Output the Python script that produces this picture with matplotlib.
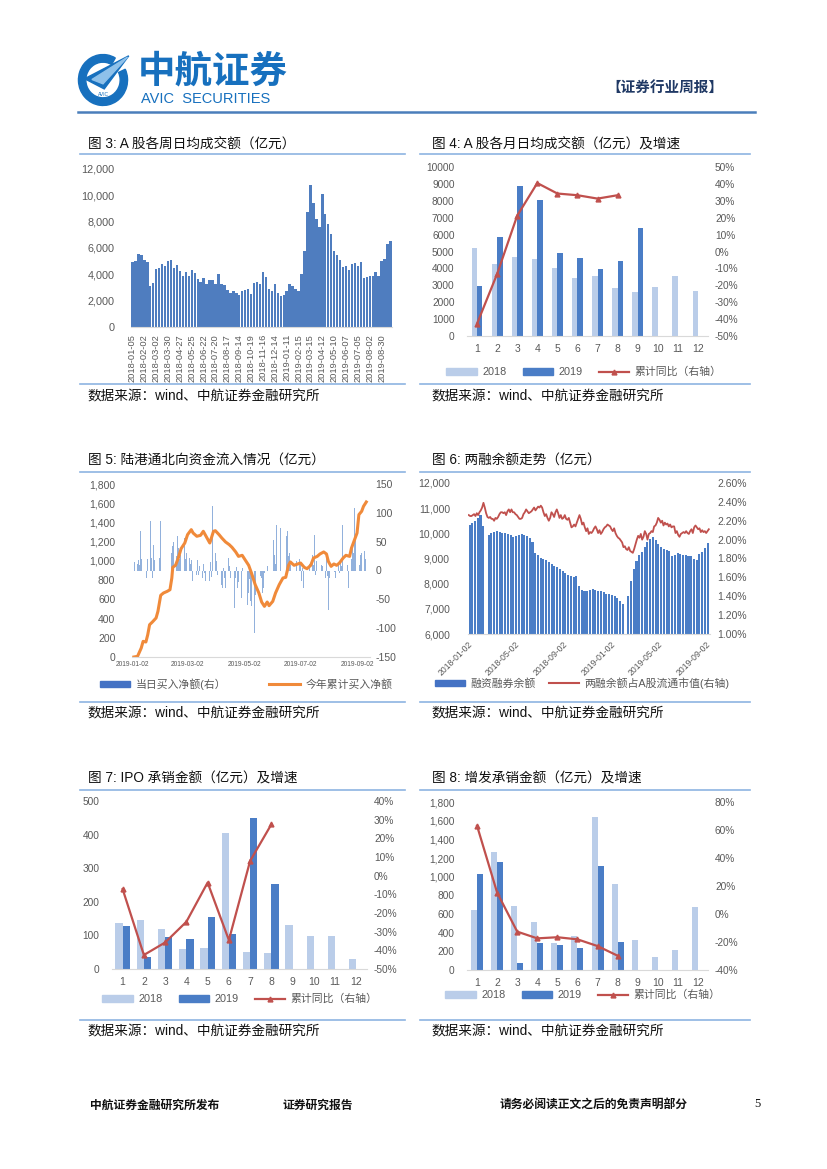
import numpy as np
import pandas as pd
import matplotlib
matplotlib.use("Agg")
import matplotlib.pyplot as plt
from matplotlib.patches import Wedge, Polygon, Rectangle
from matplotlib.lines import Line2D
from matplotlib.ticker import FuncFormatter
import matplotlib.dates as mdates

plt.rcParams['font.family'] = ['Liberation Sans', 'Noto Sans CJK SC']
plt.rcParams['axes.unicode_minus'] = False

W, H = 827, 1169

# ---- fig 3: weekly average daily turnover (100m CNY)
week_amt = [4950, 5000, 5550, 5500, 5100, 4950, 3150, 3350, 4400, 4500, 4800, 4650,
            5000, 5100, 4500, 4700, 4250, 3900, 4150, 3850, 4300, 4100, 3650, 3450,
            3700, 3250, 3550, 3600, 3250, 4000, 3300, 3200, 2800, 2550, 2750, 2600,
            2400, 2700, 2800, 2900, 2500, 3350, 3450, 3250, 4200, 3800, 2850, 2700,
            3300, 2600, 2350, 2400, 2700, 3300, 3100, 2900, 2750, 4000, 5800, 8700,
            10800, 9400, 8200, 7600, 10100, 8600, 7800, 7100, 5800, 5500, 5100, 4550,
            4600, 4300, 4800, 4850, 4650, 4950, 3700, 3800, 3850, 3900, 4150, 3850,
            5000, 5150, 6300, 6500]
week_ticks = ['2018-01-05', '2018-02-02', '2018-03-02', '2018-03-30', '2018-04-27',
              '2018-05-25', '2018-06-22', '2018-07-20', '2018-08-17', '2018-09-14',
              '2018-10-19', '2018-11-16', '2018-12-14', '2019-01-11', '2019-02-15',
              '2019-03-15', '2019-04-12', '2019-05-10', '2019-06-07', '2019-07-05',
              '2019-08-02', '2019-08-30']

# ---- fig 4: monthly average daily turnover + cumulative yoy
months = [str(i) for i in range(1, 13)]
turn_2018 = [5200, 4250, 4700, 4550, 4050, 3450, 3550, 2850, 2600, 2900, 3550, 2650]
turn_2019 = [2950, 5850, 8850, 8050, 4900, 4600, 3950, 4450, 6400]
turn_yoy = [-42.7, -13.3, 21.2, 40.5, 34.3, 33.3, 31.3, 33.3]

# ---- fig 5: northbound flow 2019
north_holidays = ['2019-02-04', '2019-02-05', '2019-02-06', '2019-02-07', '2019-02-08',
                  '2019-04-05', '2019-05-01', '2019-05-02', '2019-05-03', '2019-06-07']
north_daily = [
    # Jan
    3, 8, 15, 12, 18, 10, 68, 20, 42, 25, 15, -13, 20, 85, 22, -13, 45, 18, 36, 12, 50, 22,
    # Feb
    86, 56, 48, 30, 42, 50, 25, 59, 39, 20, 27, 32, 15, 56, 20,
    # Mar
    30, 22, 12, 18, -19, -25, 10, -8, 19, -7, 8, -13, 12, -5, -18, -10, -108, -19, 15, -12, 111,
    # Apr
    30, 16, -8, 10, -25, -30, 5, -13, -30, 22, 8, -13, -5, 12, -65, -13, 6, -30, -20, -48, 5,
    # May
    -60, -39, -15, -53, -62, -108, -42, -15, -25, -19, -10, -13, -39, -30, -5, 8, -10, -5, 25, -8,
    # Jun
    53, 27, 12, 79, 74, 56, 42, 20, 7, 59, 68, 25, 30, 10, 15, -19, 8, 12, 16,
    # Jul
    20, 10, -19, 5, -30, -13, 8, 5, 7, 12, 27, 10, 62, -8, 16, 16, -5, -2, 10, 8, -13, 22, -10,
    # Aug
    -68, -13, -30, -25, 5, -2, -13, 13, -5, 13, 8, 79, 10, 19, 5, 10, -30, 20, 45, 30, 108, 53,
    # Sep
    15, 97, 10, 27, 30, 33, 20]
north_cum_day = [1, 5, 9, 11, 14, 16, 18, 21, 25, 27, 30, 33, 37, 40, 42, 43, 46, 49, 52, 56,
                 59, 63, 65, 69, 73, 76, 80, 83, 87, 89, 93, 96, 100, 104, 107, 111, 114, 118,
                 121, 125, 128, 132, 136, 139, 142, 145, 147, 151, 154, 158, 162, 165, 168, 170,
                 174, 178, 181, 185, 188, 192, 195, 199, 202, 206, 209, 211, 214, 217, 220, 223,
                 227, 230, 234, 236, 240, 242, 244, 247, 249, 252]
north_cum = [0, 7, 94, 163, 156, 232, 336, 364, 406, 475, 642, 666, 683, 700, 822, 933, 954,
             1030, 1127, 1186, 1273, 1325, 1290, 1256, 1266, 1308, 1238, 1186, 1308, 1314, 1273,
             1238, 1197, 1169, 1141, 1093, 1047, 1058, 1013, 954, 874, 753, 666, 572, 527, 572,
             534, 579, 666, 753, 822, 829, 954, 989, 954, 968, 978, 933, 919, 954, 1030, 1047,
             1072, 1093, 1072, 995, 943, 968, 954, 978, 1030, 1058, 1047, 1134, 1238, 1290,
             1481, 1516, 1568, 1613]
north_ticks = ['2019-01-02', '2019-03-02', '2019-05-02', '2019-07-02', '2019-09-02']

# ---- fig 6: margin balance (weekly) and share of float cap
margin_bal = [10330, 10400, 10500, 10620, 10730, 10300, np.nan, 9920, 10000, 10060, 10090,
              10060, 10030, 10000, 9970, 9920, 9860, 9890, 9930, 9960, 9930, 9880, 9830, 9650,
              9220, 9120, 9030, 8970, 8940, 8880, 8780, 8700, 8660, 8570, 8510, 8430, 8360,
              8310, 8250, 8290, 7900, 7740, 7710, 7710, 7760, 7780, 7760, 7720, 7710, 7670,
              7600, 7570, 7550, 7510, 7450, 7300, 7190, np.nan, 7500, 8100, 8600, 8900, 9120,
              9240, 9470, 9640, 9760, 9860, 9750, 9560, 9450, 9380, 9330, 9280, 9100, 9140,
              9200, 9180, 9150, 9130, 9110, 9080, 8990, 8960, 9170, 9260, 9420, 9620]
margin_ratio = [2.26, 2.25, 2.25, 2.26, 2.27, 2.25, 2.28, 2.26, 2.29, 2.31, 2.34, 2.39, 2.34,
                2.28, 2.24, 2.23, 2.24, 2.22, 2.22, 2.20, 2.23, 2.22, 2.24, 2.27, 2.29, 2.29,
                2.28, 2.29, 2.26, 2.30, 2.32, 2.29, 2.32, 2.29, 2.29, 2.27, 2.26, 2.24, 2.22,
                2.22, 2.23, 2.27, 2.29, 2.32, 2.30, 2.28, 2.29, 2.30, 2.32, 2.34, 2.31, 2.33,
                2.35, 2.34, 2.36, 2.34, 2.29, 2.25, 2.27, 2.23, 2.20, 2.23, 2.29, 2.27, 2.24,
                2.29, 2.32, 2.28, 2.23, 2.26, 2.22, 2.23, 2.26, 2.22, 2.21, 2.23, 2.18, 2.13,
                2.14, 2.16, 2.14, 2.18, 2.22, 2.26, 2.22, 2.16, 2.18, 2.13, 2.09, 2.12, 2.06,
                2.08, 2.07, 2.09, 2.12, 2.14, 2.11, 2.07, 2.10, 2.06, 2.08, 2.11, 2.13, 2.14,
                2.16, 2.15, 2.14, 2.11, 2.09, 2.12, 2.07, 2.04, 2.02, 2.01, 1.99, 1.97, 1.92,
                1.93, 1.90, 1.89, 1.92, 1.88, 1.87, 1.86, 1.90, 1.95, 2.00, 2.04, 2.02, 2.06,
                2.00, 2.03, 2.09, 2.06, 2.00, 2.06, 2.07, 2.09, 2.08, 2.14, 2.15, 2.18, 2.23,
                2.21, 2.18, 2.20, 2.15, 2.18, 2.16, 2.17, 2.14, 2.16, 2.13, 2.14, 2.14, 2.07,
                2.09, 2.05, 2.03, 2.06, 2.07, 2.08, 2.07, 2.09, 2.07, 2.06, 2.09, 2.11, 2.07,
                2.13, 2.15, 2.13, 2.11, 2.12, 2.08, 2.10, 2.08, 2.09, 2.07, 2.09, 2.11]
margin_ticks = ['2018-01-02', '2018-05-02', '2018-09-02', '2019-01-02', '2019-05-02', '2019-09-02']

# ---- fig 7: IPO underwriting
ipo_2018 = [137, 146, 119, 59, 63, 404, 52, 48, 131, 99, 98, 30]
ipo_2019 = [128, 35, 94, 89, 156, 105, 448, 253]
ipo_yoy = [-7.2, -42.5, -35.8, -24.7, -3.7, -34.5, 7.9, 27.5]

# ---- fig 8: follow-on underwriting
seo_2018 = [638, 1265, 685, 509, 287, 362, 1641, 925, 323, 143, 215, 670]
seo_2019 = [1029, 1154, 75, 290, 269, 237, 1115, 301]
seo_yoy = [63.0, 15.3, -12.6, -17.4, -16.6, -18.1, -22.9, -29.8]

TICK = '#595959'
LIGHT = '#BACDE9'
DARK = '#4A7DC6'
BAR3 = '#4F7DBF'
RED = '#C0504D'
ORANGE = '#F08A3A'
RULE = '#8DB4E2'
BLUE = '#1770BE'

fig = plt.figure(figsize=(W / 100, H / 100), dpi=100)


def box(x0, y0, x1, y1):
    return [x0 / W, 1 - y1 / H, (x1 - x0) / W, (y1 - y0) / H]


def fx(x):
    return x / W


def fy(y):
    return 1 - y / H


def hline(y, x0, x1, color=RULE, lw=1.2):
    fig.add_artist(Line2D([fx(x0), fx(x1)], [fy(y), fy(y)], color=color, lw=lw,
                          transform=fig.transFigure))


def ftext(x, y, s, **kw):
    kw.setdefault('va', 'center')
    fig.text(fx(x), fy(y), s, **kw)


def clean(ax, base=True):
    for s in ax.spines.values():
        s.set_visible(False)
    if base:
        ax.spines['bottom'].set_visible(True)
        ax.spines['bottom'].set_color('#D9D9D9')
        ax.spines['bottom'].set_linewidth(0.8)
    ax.tick_params(length=0, labelsize=7, colors=TICK)


comma = FuncFormatter(lambda v, p: f"{v:,.0f}")
pct0 = FuncFormatter(lambda v, p: f"{v:.0f}%")

# ---------------- header
lax = fig.add_axes(box(76, 52, 130, 108))
lax.set_xlim(-1.1, 1.1)
lax.set_ylim(-1.1, 1.1)
lax.axis('off')
lax.add_patch(Wedge((0, 0), 1.0, 60, 385, width=0.3, color=BLUE))
lax.add_patch(Polygon([[-0.75, 0.05], [1.05, 0.95], [0.05, -0.35]], closed=True, color=BLUE))
lax.add_patch(Polygon([[-0.45, 0.02], [1.0, 0.9], [0.0, -0.15]], closed=True, color='#8FC1EA'))
lax.text(0.0, -0.58, 'AVIC', color=BLUE, fontsize=3.5, ha='center', va='center')

ftext(138, 72, '中航证券', fontsize=27, weight='bold', color=BLUE)
ftext(141, 99, 'AVIC  SECURITIES', fontsize=10.5, color=BLUE)
ftext(606, 88, '【证券行业周报】', fontsize=10.5, weight='bold', color='#1F3864')
hline(112, 78, 755, color='#4A7EBB', lw=1.8)

# ---------------- titles, rules, sources
titles = [(88, 144, '图 3: A 股各周日均成交额（亿元）'),
          (432, 144, '图 4: A 股各月日均成交额（亿元）及增速'),
          (88, 461, '图 5: 陆港通北向资金流入情况（亿元）'),
          (432, 461, '图 6: 两融余额走势（亿元）'),
          (88, 779, '图 7: IPO 承销金额（亿元）及增速'),
          (432, 779, '图 8: 增发承销金额（亿元）及增速')]
for x, y, s in titles:
    ftext(x, y, s, fontsize=9.8, color='#111111')
for y_top, y_bot, y_src in [(154, 384, 396), (472, 702, 713), (790, 1020, 1031)]:
    for x0, x1, xs in [(80, 405, 87), (420, 750, 431)]:
        hline(y_top, x0, x1)
        hline(y_bot, x0, x1)
        ftext(xs, y_src, '数据来源：wind、中航证券金融研究所', fontsize=9.8, color='#111111')

# ---------------- fig 3
ax3 = fig.add_axes(box(131, 169, 392, 327))
clean(ax3)
xw = np.arange(len(week_amt))
ax3.bar(xw, week_amt, width=0.82, color=BAR3)
ax3.set_xlim(-0.5, len(week_amt) - 0.5)
ax3.set_ylim(0, 12000)
ax3.set_yticks(np.arange(0, 12001, 2000))
ax3.yaxis.set_major_formatter(comma)
ax3.set_xticks(xw[::4])
ax3.set_xticklabels(week_ticks, rotation=90, fontsize=6.7)
ax3.tick_params(axis='y', pad=12, labelsize=7.8)
ax3.tick_params(axis='x', pad=5)


def month_chart(box_px, a18, a19, yoy, width, ymax, ystep, ylo, yhi, ystep2, ylabfmt, leg_xy):
    ax = fig.add_axes(box(*box_px))
    clean(ax)
    m = np.arange(1, 13)
    ax.bar(m - width / 2, a18, width, color=LIGHT)
    ax.bar(np.arange(1, len(a19) + 1) + width / 2, a19, width, color=DARK)
    ax.set_xlim(0.5, 12.5)
    ax.set_ylim(0, ymax)
    ax.set_yticks(np.arange(0, ymax + 1, ystep))
    ax.yaxis.set_major_formatter(ylabfmt)
    ax.set_xticks(m)
    ax.set_xticklabels(months)
    ax.tick_params(axis='x', pad=6, labelsize=7.5)
    ax.tick_params(axis='y', pad=9, labelsize=7.3)
    tw = ax.twinx()
    clean(tw, base=False)
    tw.plot(np.arange(1, len(yoy) + 1), yoy, color=RED, lw=1.6, marker='^', ms=3.5)
    tw.set_ylim(ylo, yhi)
    tw.set_yticks(np.arange(ylo, yhi + 1, ystep2))
    tw.yaxis.set_major_formatter(pct0)
    tw.tick_params(axis='y', pad=5, labelsize=7.3)
    handles = [Rectangle((0, 0), 1, 1, color=LIGHT), Rectangle((0, 0), 1, 1, color=DARK),
               Line2D([], [], color=RED, lw=1.6, marker='^', ms=3.5)]
    ax.legend(handles, ['2018', '2019', '累计同比（右轴）'], loc='center',
              bbox_to_anchor=(fx(leg_xy[0]), fy(leg_xy[1])), bbox_transform=fig.transFigure,
              ncol=3, frameon=False, fontsize=7.8, handlelength=2.8, handleheight=0.6,
              columnspacing=1.5, handletextpad=0.5, labelcolor=TICK)
    return ax, tw


# ---------------- fig 4
month_chart((467, 167, 708, 336), turn_2018, turn_2019, turn_yoy, 0.27, 10000, 1000,
            -50, 50, 10, FuncFormatter(lambda v, p: f"{v:.0f}"), (584, 372))

# ---------------- fig 5
ax5 = fig.add_axes(box(132, 484, 370, 657))
t5 = ax5.twinx()
clean(ax5)
clean(t5, base=False)
north_dates = pd.bdate_range('2019-01-02', '2019-09-10').drop(pd.to_datetime(north_holidays))
t5.bar(north_dates, north_daily, width=0.75, color=DARK, alpha=0.6)
t5.set_ylim(-150, 150)
t5.set_yticks(np.arange(-150, 151, 50))
t5.tick_params(axis='y', pad=4, labelsize=7.5)
cum_dates = pd.Timestamp('2019-01-02') + pd.to_timedelta(north_cum_day, unit='D')
ax5.plot(cum_dates, north_cum, color=ORANGE, lw=2.2)
ax5.set_zorder(t5.get_zorder() + 1)
ax5.patch.set_visible(False)
ax5.set_ylim(0, 1800)
ax5.set_yticks(np.arange(0, 1801, 200))
ax5.yaxis.set_major_formatter(comma)
ax5.set_xlim(pd.Timestamp('2019-01-01'), pd.Timestamp('2019-09-15'))
ax5.set_xticks(pd.to_datetime(north_ticks))
ax5.xaxis.set_major_formatter(mdates.DateFormatter('%Y-%m-%d'))
ax5.tick_params(axis='x', labelsize=4.8, pad=3)
ax5.tick_params(axis='y', pad=12, labelsize=7.5)
h5 = [Rectangle((0, 0), 1, 1, color='#4472C4'), Line2D([], [], color=ORANGE, lw=2.2)]
ax5.legend(h5, ['当日买入净额(右）', '今年累计买入净额'], loc='center',
           bbox_to_anchor=(fx(246), fy(684)), bbox_transform=fig.transFigure, ncol=2,
           frameon=False, fontsize=7.8, handlelength=2.8, handleheight=0.6,
           columnspacing=4.0, handletextpad=0.5, labelcolor=TICK)

# ---------------- fig 6
ax6 = fig.add_axes(box(468, 483, 710, 634))
clean(ax6)
margin_dates = pd.date_range('2018-01-05', periods=len(margin_bal), freq='W-FRI')
mb = np.array(margin_bal, dtype=float)
ok = ~np.isnan(mb)
ax6.bar(margin_dates[ok], mb[ok], width=5.2, color=DARK)
ax6.set_ylim(6000, 12000)
ax6.set_yticks(np.arange(6000, 12001, 1000))
ax6.yaxis.set_major_formatter(comma)
ax6.tick_params(axis='y', pad=13, labelsize=7.5)
t6 = ax6.twinx()
clean(t6, base=False)
ratio_dates = pd.date_range('2018-01-03', '2019-09-09', periods=len(margin_ratio))
t6.plot(ratio_dates, margin_ratio, color=RED, lw=1.3)
t6.set_ylim(1.0, 2.6)
t6.set_yticks(np.arange(1.0, 2.61, 0.2))
t6.yaxis.set_major_formatter(FuncFormatter(lambda v, p: f"{v:.2f}%"))
t6.tick_params(axis='y', pad=5, labelsize=7.5)
ax6.set_xlim(pd.Timestamp('2018-01-01'), pd.Timestamp('2019-09-12'))
ax6.set_xticks(pd.to_datetime(margin_ticks))
ax6.xaxis.set_major_formatter(mdates.DateFormatter('%Y-%m-%d'))
for lab in ax6.get_xticklabels():
    lab.set_rotation(45)
    lab.set_ha('right')
    lab.set_rotation_mode('anchor')
    lab.set_fontsize(6.2)
ax6.tick_params(axis='x', pad=4)
h6 = [Rectangle((0, 0), 1, 1, color='#4472C4'), Line2D([], [], color=RED, lw=1.5)]
ax6.legend(h6, ['融资融券余额', '两融余额占A股流通市值(右轴)'], loc='center',
           bbox_to_anchor=(fx(582), fy(683)), bbox_transform=fig.transFigure, ncol=2,
           frameon=False, fontsize=7.8, handlelength=2.8, handleheight=0.6,
           columnspacing=1.2, handletextpad=0.5, labelcolor=TICK)

# ---------------- fig 7
month_chart((112, 801, 367, 969), ipo_2018, ipo_2019, ipo_yoy, 0.34, 500, 100,
            -50, 40, 10, FuncFormatter(lambda v, p: f"{v:.0f}"), (240, 999))

# ---------------- fig 8
month_chart((467, 802, 708, 970), seo_2018, seo_2019, seo_yoy, 0.3, 1800, 200,
            -40, 80, 20, comma, (583, 995))

# ---------------- footer
ftext(90, 1106, '中航证券金融研究所发布', fontsize=8.5, weight='bold', color='#111111')
ftext(283, 1106, '证券研究报告', fontsize=8.5, weight='bold', color='#111111')
ftext(500, 1106, '请务必阅读正文之后的免责声明部分', fontsize=8.5, weight='bold', color='#111111')
ftext(754, 1104, '5', fontsize=9, family='Liberation Serif', color='#111111')

fig.savefig('out.png', dpi=100, facecolor='white')
